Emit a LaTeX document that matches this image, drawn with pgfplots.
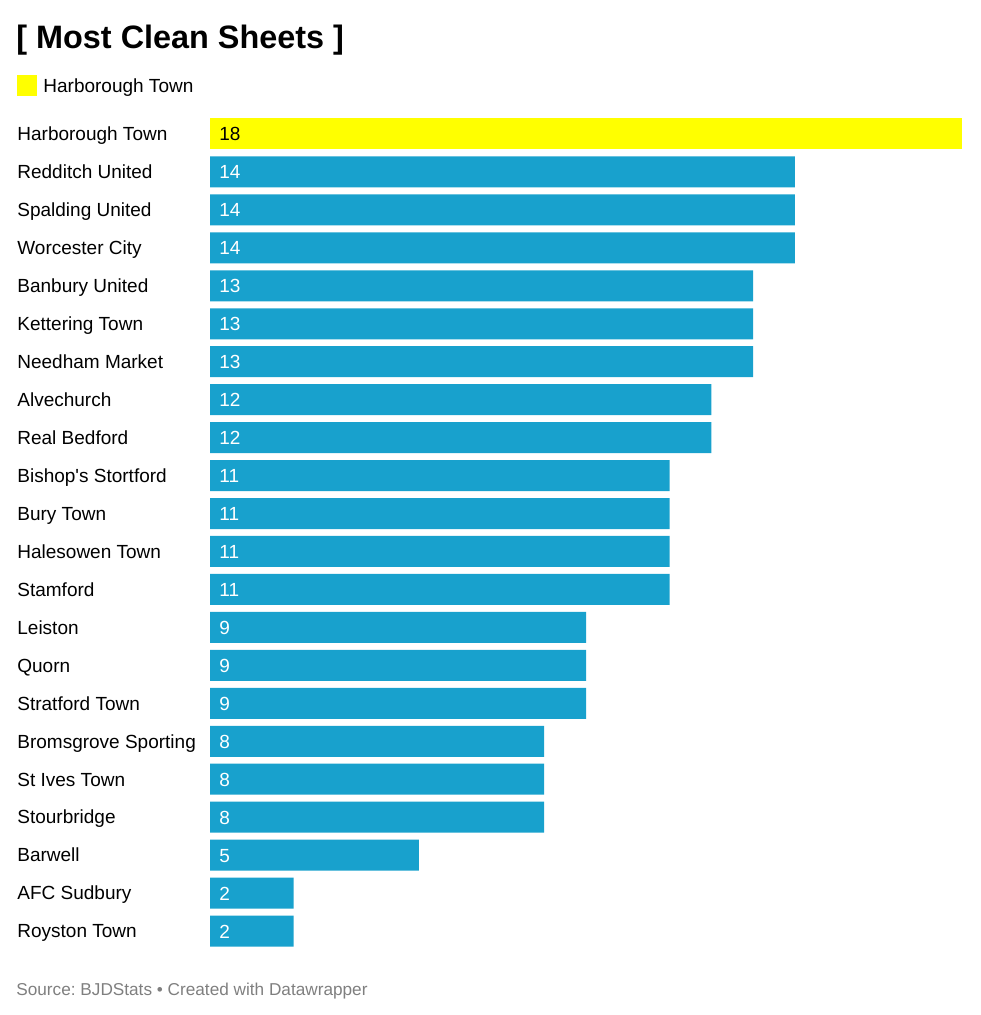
\documentclass[border=0pt]{standalone}
\usepackage{fontspec}
\setmainfont{Liberation Sans}
\usepackage{pgfplots}
\pgfplotsset{compat=1.18}
\usepackage{pgfplotstable}
\frenchspacing

\definecolor{barblue}{HTML}{18A1CD}
\definecolor{hlyellow}{HTML}{FFFF00}
\definecolor{srcgray}{HTML}{7F7F7F}

% clean sheets per club
\pgfplotstableread[col sep=comma]{
idx,val,team
0,18,Harborough Town
1,14,Redditch United
2,14,Spalding United
3,14,Worcester City
4,13,Banbury United
5,13,Kettering Town
6,13,Needham Market
7,12,Alvechurch
8,12,Real Bedford
9,11,Bishop\textquotesingle s Stortford
10,11,Bury Town
11,11,Halesowen Town
12,11,Stamford
13,9,Leiston
14,9,Quorn
15,9,Stratford Town
16,8,Bromsgrove Sporting
17,8,St Ives Town
18,8,Stourbridge
19,5,Barwell
20,2,AFC Sudbury
21,2,Royston Town
}\clean

\newcommand\lblfont{\fontsize{9.5}{11}\selectfont}

\begin{document}
\begin{tikzpicture}
\path[use as bounding box] (0,0) rectangle (490pt,-507.5pt);

\node[anchor=base west, inner sep=0pt, font=\fontsize{16.2}{19}\selectfont\bfseries] at (8pt,-24.2pt) {[ Most Clean Sheets ]};

\fill[hlyellow] (8.3pt,-37.6pt) rectangle (18.6pt,-47.9pt);
\node[anchor=base west, inner sep=0pt, font=\lblfont] at (21.5pt,-46.3pt) {Harborough Town};

\node[anchor=base west, inner sep=0pt, font=\fontsize{8.6}{10}\selectfont, text=srcgray] at (8pt,-497.5pt) {Source: BJDStats • Created with Datawrapper};

\begin{axis}[
    at={(105pt,-57.5pt)}, anchor=north west,
    scale only axis,
    width=376pt, height=417.5pt,
    xmin=0, xmax=18,
    ymin=-0.5, ymax=21.5,
    y dir=reverse,
    axis line style={draw=none},
    xtick=\empty,
    ytick={0,...,21},
    yticklabels from table={\clean}{team},
    major tick length=0pt,
    yticklabel style={anchor=base west, inner sep=0pt, xshift=-96.5pt, yshift=-3.4pt, font=\lblfont},
    /pgf/number format/assume math mode=true,
    clip=false,
]
\addplot[xbar, bar shift=0pt, bar width=15.5pt, fill=barblue, draw=none,
    skip coords between index={0}{1}]
    table[x=val, y=idx] {\clean};
\addplot[xbar, bar shift=0pt, bar width=15.5pt, fill=hlyellow, draw=none]
    coordinates {(18,0)};

\addplot[only marks, mark=none, nodes near coords, point meta=explicit,
    skip coords between index={0}{1},
    every node near coord/.append style={anchor=base west, inner sep=0pt, xshift=4.5pt, yshift=-3.5pt, text=white, font=\lblfont}]
    table[x expr=0, y=idx, meta=val] {\clean};
\addplot[only marks, mark=none, nodes near coords, point meta=explicit,
    every node near coord/.append style={anchor=base west, inner sep=0pt, xshift=4.5pt, yshift=-3.5pt, text=black, font=\lblfont}]
    coordinates {(0,0) [18]};
\end{axis}
\end{tikzpicture}
\end{document}
